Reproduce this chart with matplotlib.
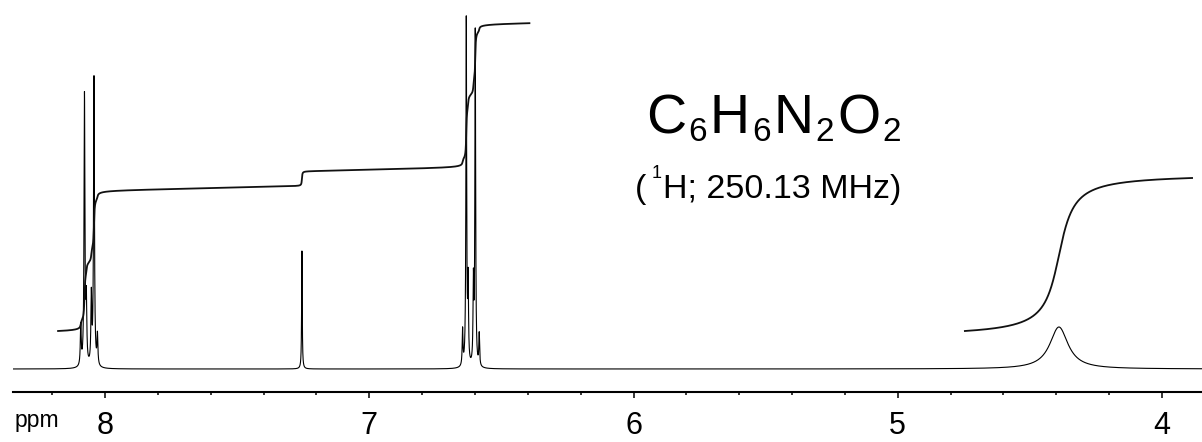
# -*- coding: utf-8 -*-

"""
1H NMR spectrum of C6H6N2O2 with integral curves
"""

import matplotlib
matplotlib.use('Agg')
import matplotlib.pyplot as plt
import numpy as np
from matplotlib.ticker import MultipleLocator, NullFormatter
from matplotlib.transforms import IdentityTransform

plt.rcParams['font.family'] = ['Liberation Sans', 'DejaVu Sans']

# peak list: shift (ppm), height (baseline = 0), half width at half height (ppm)
peak_ppm = [8.092, 8.078, 8.071, 8.052, 8.042, 8.029,
            7.255,
            6.647, 6.633, 6.626, 6.606, 6.599, 6.584,
            4.390]
peak_height = [40, 271, 60, 68, 289, 30,
               118,
               36, 347, 80, 80, 335, 32,
               42]
peak_hwhm = [0.0020, 0.0020, 0.0020, 0.0020, 0.0020, 0.0020,
             0.00135,
             0.0017, 0.0017, 0.0017, 0.0017, 0.0017, 0.0017,
             0.042]

# integral segments: ppm range, starting level, total rise, baseline drift per ppm
integral_from = [8.178, 4.746]
integral_to = [6.394, 3.886]
integral_start = [38, 38]
integral_rise = [298, 153]
integral_drift = [5.5, 0.0]

major_ticks = [8, 7, 6, 5, 4]
x_range = (8.3485, 3.8485)

W, H = 1202, 442


def lorentz_spectrum(ppm):
    spec = np.zeros_like(ppm)
    for c, h, g in zip(peak_ppm, peak_height, peak_hwhm):
        spec += h * g ** 2 / ((ppm - c) ** 2 + g ** 2)
    return spec


def draw_pieces(fig, renderer, x, y, pieces):
    """
    一段一段地写字，用于下标/上标
    """
    for s, size, dy, gap in pieces:
        t = fig.text(x, y + dy, s, fontsize=size, va='baseline',
                     transform=IdentityTransform())
        x += t.get_window_extent(renderer).width + gap


def main():
    fig = plt.figure(figsize=(W / 100, H / 100), dpi=100)
    ax = fig.add_axes([13 / W, 50 / H, (W - 13) / W, 392 / H])

    ppm = np.linspace(x_range[0], x_range[1], 40001)
    spec = lorentz_spectrum(ppm)
    ax.plot(ppm, spec, color='k', lw=0.8)

    # 积分曲线
    for p0, p1, start, rise, drift in zip(integral_from, integral_to, integral_start,
                                         integral_rise, integral_drift):
        mask = (ppm <= p0) & (ppm >= p1)
        seg = ppm[mask]
        cum = np.cumsum(spec[mask])
        level = start + rise * cum / cum[-1] + drift * (p0 - seg)
        ax.plot(seg, level, color='#111111', lw=1.3)

    ax.set_xlim(*x_range)
    ax.set_ylim(-23, 369)
    for side in ('top', 'left', 'right'):
        ax.spines[side].set_visible(False)
    ax.spines['bottom'].set_linewidth(1.5)
    ax.set_yticks([])
    ax.xaxis.set_major_locator(MultipleLocator(1))
    ax.xaxis.set_minor_locator(MultipleLocator(0.2))
    ax.xaxis.set_minor_formatter(NullFormatter())
    ax.set_xticks(major_ticks)
    ax.set_xticklabels([str(t) for t in major_ticks])
    ax.tick_params(axis='x', which='major', direction='out', length=4.5, width=1.1,
                   labelsize=22, pad=9)
    ax.tick_params(axis='x', which='minor', direction='out', length=2.3, width=1.1)

    fig.text(15, H - 427, 'ppm', fontsize=16.5, va='baseline',
             transform=IdentityTransform())

    renderer = fig.canvas.get_renderer()
    draw_pieces(fig, renderer, 646, H - 133, [
        ('C', 40, 0, 2), ('6', 24, -8, 3),
        ('H', 40, 0, 2), ('6', 24, -8, 3),
        ('N', 40, 0, 2), ('2', 24, -8, 3),
        ('O', 40, 0, 2), ('2', 24, -8, 0),
    ])
    draw_pieces(fig, renderer, 635, H - 198, [
        ('(', 24.5, 0, 5), ('1', 13, 20, 2), ('H; 250.13 MHz)', 24.5, 0, 0),
    ])

    fig.savefig('out.png', dpi=100)


if __name__ == '__main__':
    main()
